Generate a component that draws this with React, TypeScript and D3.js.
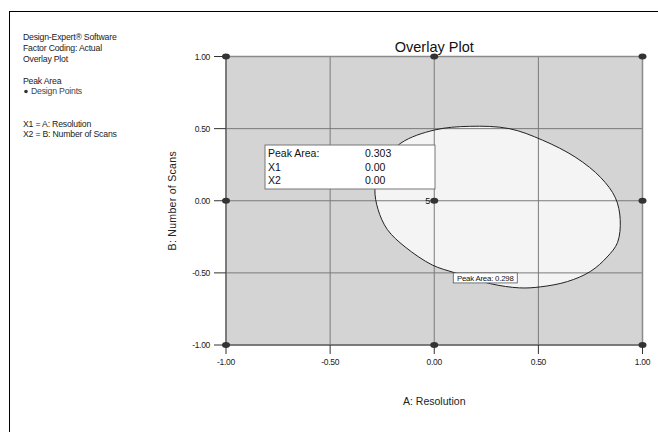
import React from "react";
import * as d3 from "d3";

// Factor ranges and tick values (coded units)
const xTicks = [-1, -0.5, 0, 0.5, 1];
const yTicks = [-1, -0.5, 0, 0.5, 1];
const tickLabels = ["-1.00", "-0.50", "0.00", "0.50", "1.00"];

// Face-centred design points: [A, B]
const designPoints: [number, number][] = [
  [-1, 1], [0, 1], [1, 1],
  [-1, 0], [0, 0], [1, 0],
  [-1, -1], [0, -1], [1, -1],
];
const centerReplicates = 5;

// Peak Area = 0.298 contour (A, B), traced clockwise from the top
const contourLevel = 0.298;
const contourA = [0.17, 0.36, 0.52, 0.68, 0.8, 0.87, 0.893, 0.88, 0.83, 0.75, 0.64, 0.51, 0.41, 0.27, 0.1, -0.01, -0.14, -0.225, -0.27, -0.285, -0.262, -0.16, 0.0];
const contourB = [0.516, 0.5, 0.42, 0.3, 0.16, 0.02, -0.13, -0.29, -0.39, -0.49, -0.56, -0.597, -0.604, -0.575, -0.5, -0.445, -0.32, -0.2, -0.06, 0.08, 0.24, 0.4, 0.49];
const contourLabelAt: [number, number] = [0.245, -0.535];

// Flag readout at the centre point
const flagRows = [
  { name: "Peak Area:", value: "0.303" },
  { name: "X1", value: "0.00" },
  { name: "X2", value: "0.00" },
];

const infoLines = [
  { text: "Design-Expert® Software", y: 40 },
  { text: "Factor Coding: Actual", y: 51 },
  { text: "Overlay Plot", y: 62 },
  { text: "Peak Area", y: 84 },
  { text: "X1 = A: Resolution", y: 127 },
  { text: "X2 = B: Number of Scans", y: 137 },
];

const FONT = "'Liberation Sans', Arial, sans-serif";

export default function App() {
  const W = 658;
  const H = 432;
  const x = d3.scaleLinear().domain([-1, 1]).range([226, 642.5]);
  const y = d3.scaleLinear().domain([-1, 1]).range([345, 56.5]);

  const contourPts: [number, number][] = contourA.map((a, i) => [x(a), y(contourB[i])]);
  const contourPath = d3.line().curve(d3.curveCatmullRomClosed.alpha(0.5))(contourPts) || "";

  const [x0, x1] = x.range();
  const [y0, y1] = y.range();

  const flagX = 265;
  const flagY = 145;
  const flagW = 170;
  const flagH = 44;

  const lblX = x(contourLabelAt[0]);
  const lblY = y(contourLabelAt[1]);
  const lblText = `Peak Area: ${contourLevel.toFixed(3)}`;

  return (
    <svg
      width={W}
      height={H}
      style={{ position: "absolute", left: 0, top: 0, background: "#fff" }}
      fontFamily={FONT}
    >
      {/* frame */}
      <line x1={9.5} y1={11} x2={9.5} y2={H} stroke="#000" strokeWidth={1} />
      <line x1={9} y1={11.5} x2={W} y2={11.5} stroke="#000" strokeWidth={1} />

      {/* info text */}
      {infoLines.map((l) => (
        <text key={l.text} x={23} y={l.y} fontSize={8.7} fill="#222" letterSpacing={-0.2}>
          {l.text}
        </text>
      ))}
      <ellipse cx={26} cy={91.5} rx={1.8} ry={1.8} fill="#333" />
      <text x={31} y={94} fontSize={8.7} fill="#444" letterSpacing={-0.2}>
        Design Points
      </text>

      {/* plot area */}
      <rect x={x0} y={y1} width={x1 - x0} height={y0 - y1} fill="#d4d4d4" />
      <path d={contourPath} fill="#f4f4f4" stroke="none" />

      {/* grid */}
      {xTicks.slice(1, -1).map((t) => (
        <line key={"gx" + t} x1={x(t)} x2={x(t)} y1={y1} y2={y0} stroke="#7a7a7a" strokeWidth={1} />
      ))}
      {yTicks.slice(1, -1).map((t) => (
        <line key={"gy" + t} x1={x0} x2={x1} y1={y(t)} y2={y(t)} stroke="#7a7a7a" strokeWidth={1} />
      ))}
      <rect x={x0} y={y1} width={x1 - x0} height={y0 - y1} fill="none" stroke="#8a8a8a" strokeWidth={1.5} />
      <line x1={x0} x2={x1} y1={y0} y2={y0} stroke="#555" strokeWidth={1} />
      <line x1={x0} x2={x0} y1={y1} y2={y0} stroke="#555" strokeWidth={1} />

      {/* contour line */}
      <path d={contourPath} fill="none" stroke="#222" strokeWidth={1} />

      {/* axes ticks and labels */}
      {yTicks.map((t, i) => (
        <g key={"ty" + t}>
          <line x1={x0 - 12} x2={x0} y1={y(t)} y2={y(t)} stroke="#333" />
          <text x={x0 - 16} y={y(t) + 3} fontSize={8.5} textAnchor="end" fill="#222" letterSpacing={-0.3}>
            {tickLabels[i]}
          </text>
        </g>
      ))}
      {xTicks.map((t, i) => (
        <g key={"tx" + t}>
          <line x1={x(t)} x2={x(t)} y1={y0} y2={y0 + 9} stroke="#333" />
          <text x={x(t)} y={y0 + 20} fontSize={8.5} textAnchor="middle" fill="#222" letterSpacing={-0.3}>
            {tickLabels[i]}
          </text>
        </g>
      ))}

      {/* design points */}
      {designPoints.map(([a, b]) => (
        <ellipse key={`${a},${b}`} cx={x(a)} cy={y(b)} rx={4} ry={3} fill="#333" />
      ))}
      <text x={x(0) - 4} y={y(0) + 3} fontSize={9} textAnchor="end" fill="#111">
        {centerReplicates}
      </text>

      {/* contour label */}
      <g>
        <rect x={lblX - 32} y={lblY - 5} width={64} height={10} fill="#fff" stroke="#555" strokeWidth={0.8} />
        <text x={lblX} y={lblY + 3} fontSize={7.8} textAnchor="middle" fill="#111" letterSpacing={-0.2}>
          {lblText}
        </text>
      </g>

      {/* flag */}
      <rect x={flagX} y={flagY} width={flagW} height={flagH} fill="#fff" stroke="#777" strokeWidth={1} />
      {flagRows.map((r, i) => (
        <g key={r.name}>
          <text x={flagX + 3} y={flagY + 12 + i * 13.5} fontSize={10.5} fill="#111">
            {r.name}
          </text>
          <text x={flagX + 100} y={flagY + 12 + i * 13.5} fontSize={10.5} fill="#111">
            {r.value}
          </text>
        </g>
      ))}

      {/* titles */}
      <text x={x(0)} y={52} fontSize={14.5} textAnchor="middle" fill="#111">
        Overlay Plot
      </text>
      <text x={x(0)} y={405} fontSize={10.5} textAnchor="middle" fill="#222">
        A: Resolution
      </text>
      <text
        transform={`translate(176, ${y(0)}) rotate(-90)`}
        fontSize={10.5}
        textAnchor="middle"
        fill="#222"
        letterSpacing={0.3}
      >
        B: Number of Scans
      </text>
    </svg>
  );
}
